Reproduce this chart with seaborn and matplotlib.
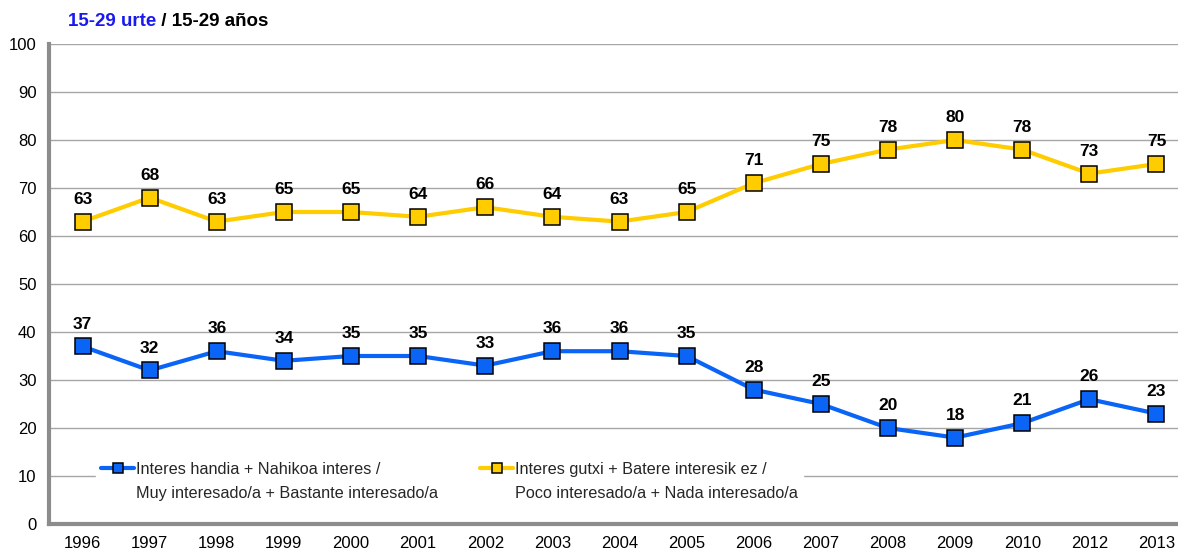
import matplotlib
matplotlib.use("Agg")
import matplotlib.pyplot as plt
import seaborn as sns
import pandas as pd

years = ["1996", "1997", "1998", "1999", "2000", "2001", "2002", "2003", "2004",
         "2005", "2006", "2007", "2008", "2009", "2010", "2012", "2013"]
interested = [37, 32, 36, 34, 35, 35, 33, 36, 36, 35, 28, 25, 20, 18, 21, 26, 23]
not_interested = [63, 68, 63, 65, 65, 64, 66, 64, 63, 65, 71, 75, 78, 80, 78, 73, 75]

label_blue = "Interes handia + Nahikoa interes /\nMuy interesado/a + Bastante interesado/a"
label_yellow = "Interes gutxi + Batere interesik ez /\nPoco interesado/a + Nada interesado/a"
title_eu = "15-29 urte"
title_es = " / 15-29 años"
y_ticks = [0, 10, 20, 30, 40, 50, 60, 70, 80, 90, 100]

sns.set_theme(style="white")
plt.rcParams['font.family'] = ['Liberation Sans', 'DejaVu Sans']

BLUE = "#0A64F5"
YELLOW = "#FFCC00"
GRID = "#A6A6A6"
SPINE = "#8C8C8C"

pos = list(range(len(years)))
df = pd.DataFrame({"pos": pos, "blue": interested, "yellow": not_interested})

fig = plt.figure(figsize=(11.78, 5.5), dpi=100)
W, H = 1178, 550
ax = fig.add_axes([49 / W, 26 / H, (1190 - 49) / W, (524 - 44) / H])

for col, color, lab in [("blue", BLUE, label_blue), ("yellow", YELLOW, label_yellow)]:
    sns.lineplot(data=df, x="pos", y=col, ax=ax, color=color, linewidth=3.0,
                 marker="s", markersize=11.5, markeredgecolor="black",
                 markeredgewidth=1.1, markerfacecolor=color, label=lab, zorder=3)

for vals in (interested, not_interested):
    for x, v in zip(pos, vals):
        ax.annotate(str(v), (x, v), xytext=(0, 16), textcoords="offset points",
                    ha="center", va="center", fontsize=12.5, fontweight="bold",
                    color="black", zorder=5)

ax.set_xlim(-0.5, len(years) - 0.5)
ax.set_ylim(0, 100)
ax.set_yticks(y_ticks)
ax.set_yticklabels([str(t) for t in y_ticks], fontsize=12)
ax.set_xticks(pos)
ax.set_xticklabels(years, fontsize=12)
ax.set_xticks([p + 0.5 for p in pos[:-1]], minor=True)
ax.tick_params(axis="x", which="major", length=0, pad=9, colors="black")
ax.tick_params(axis="x", which="minor", length=4, width=2, color=SPINE, direction="out")
ax.tick_params(axis="y", which="major", length=5, width=2, color=SPINE, direction="out",
               pad=4, labelcolor="black")
ax.set_xlabel("")
ax.set_ylabel("")

ax.yaxis.grid(True, color=GRID, linewidth=1.0)
ax.xaxis.grid(False)
ax.set_axisbelow(True)
for s in ("top", "right"):
    ax.spines[s].set_visible(False)
for s in ("left", "bottom"):
    ax.spines[s].set_color(SPINE)
    ax.spines[s].set_linewidth(3)

leg = ax.legend(loc="upper left", bbox_to_anchor=(47 / 1141, (524 - 457) / 480), ncol=2,
                frameon=True, fancybox=False, edgecolor="white", facecolor="white",
                framealpha=1.0, fontsize=11.7, handlelength=2.05, handletextpad=0.1,
                columnspacing=2.6, markerscale=0.62, borderpad=0.3,
                borderaxespad=0)
for t in leg.get_texts():
    t.set_linespacing(1.78)
# align handles with the first text line (as in the original chart)
for column in leg._legend_handle_box.get_children():
    for pair in column.get_children():
        pair.align = "top"
leg.set_zorder(4)

t1 = fig.text(68 / W, 1 - 21 / H, title_eu, color="#1A1AF0", fontsize=13.5,
              fontweight="bold", va="center", ha="left")
fig.canvas.draw()
ax.annotate(title_es, xy=(1, 0), xycoords=t1, va="bottom", ha="left",
            fontsize=13.5, fontweight="bold", color="black", annotation_clip=False)

fig.savefig("out.png", dpi=100)
